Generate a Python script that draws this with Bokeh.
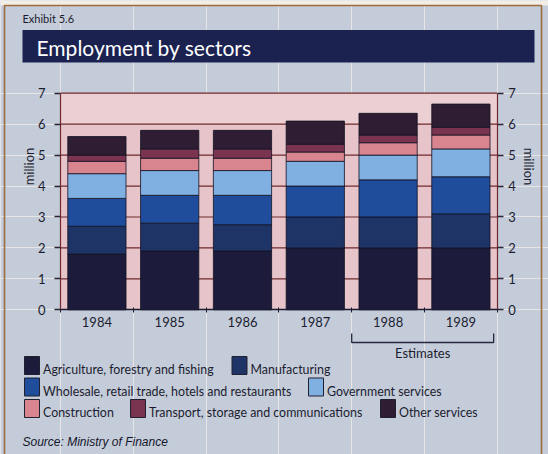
import math
from bokeh.plotting import figure
from bokeh.models import Range1d, LinearAxis, FixedTicker, ColumnDataSource
from bokeh.core.properties import value
from bokeh.embed import file_html
from bokeh.resources import INLINE

# ---------------- data ----------------
years = ["1984", "1985", "1986", "1987", "1988", "1989"]
sectors = [
    "Agriculture, forestry and fishing",
    "Manufacturing",
    "Wholesale, retail trade, hotels and restaurants",
    "Government services",
    "Construction",
    "Transport, storage and communications",
    "Other services",
]
agriculture = [1.8, 1.9, 1.9, 2.0, 2.0, 2.0]
manufacturing = [0.9, 0.9, 0.85, 1.0, 1.0, 1.1]
wholesale = [0.9, 0.9, 0.95, 1.0, 1.2, 1.2]
government = [0.8, 0.8, 0.8, 0.8, 0.8, 0.9]
construction = [0.4, 0.4, 0.4, 0.3, 0.4, 0.45]
transport = [0.2, 0.3, 0.3, 0.25, 0.25, 0.25]
other = [0.6, 0.6, 0.6, 0.75, 0.7, 0.75]
y_ticks = [0, 1, 2, 3, 4, 5, 6, 7]
estimate_years = ["1988", "1989"]
unit_label = "million"

colors = ["#1d1b3b", "#1f3466", "#1f4d9c", "#80b0e2", "#d9858f", "#7b3450", "#2e1d33"]

# ---------------- layout constants (pixels) ----------------
W, H = 548, 454
X0, CW = 60.0, 72.8      # px of first category edge, px per category
Y0, UY = 309.3, 30.94    # px of value 0, px per million

def xd(px):
    return (px - X0) / CW

def yd(py):
    return (Y0 - py) / UY

PANEL = "#c4ccd9"
PINK = "#e6c4c9"
PINK_TOP = "#ebcfd2"
GRID = "#6e2a2e"
NAVY = "#1c2250"
TXT = "#1c1c30"
FONT = "Lato"

p = figure(width=W, height=H, x_range=Range1d(xd(0), xd(W)), y_range=Range1d(yd(H), yd(0)),
           x_axis_location=None, y_axis_location=None, min_border=0,
           toolbar_location=None, output_backend="svg",
           background_fill_color=PANEL, border_fill_color=PANEL, outline_line_color=None)

n = len(years)
ymax = y_ticks[-1]

def txt(px, pmid, s, size, color=TXT, align="left", font=FONT, style="normal", angle=0.0):
    # pmid: vertical pixel position of the text's middle
    p.text(x=[xd(px)], y=[yd(pmid)], text=[s], text_font=value(font), text_font_size=value(size),
           text_color=color, text_align=align, text_baseline="middle", text_font_style=style,
           angle=angle)

# outer frame
p.quad(left=xd(0), right=xd(W), top=yd(0), bottom=yd(5), fill_color="#f3eee5", line_color=None)
p.line(x=[xd(4), xd(4), xd(541), xd(541)], y=[yd(H), yd(5), yd(5), yd(H)],
       line_color="#9c6b3e", line_width=1.6)

# title bar
p.quad(left=xd(22), right=xd(534), top=yd(29.5), bottom=yd(62), fill_color=NAVY, line_color=None)
txt(22, 18.3, "Exhibit 5.6", "11px")
txt(36, 47, "Employment by sectors", "21px", color="white")

# plot background
p.quad(left=0, right=n, bottom=0, top=ymax, fill_color=PINK, line_color=None)
p.quad(left=0, right=n, bottom=y_ticks[-2], top=ymax, fill_color=PINK_TOP, line_color=None)

# grid lines
p.segment(x0=[0] * (len(y_ticks) - 1), x1=[n] * (len(y_ticks) - 1), y0=y_ticks[1:], y1=y_ticks[1:],
          line_color=GRID, line_width=1.2)

# stacked bars
src = ColumnDataSource(dict(
    x=[i + 0.5 for i in range(n)],
    agriculture=agriculture, manufacturing=manufacturing, wholesale=wholesale,
    government=government, construction=construction, transport=transport, other=other))
keys = ["agriculture", "manufacturing", "wholesale", "government", "construction", "transport", "other"]
p.vbar_stack(keys, x="x", width=0.8, color=colors, line_color="#121222", line_width=0.8, source=src)

# axes
def yaxis(loc, standoff):
    ax = LinearAxis(fixed_location=loc, bounds=(0, ymax), ticker=FixedTicker(ticks=y_ticks),
                    major_label_text_font=FONT, major_label_text_font_size="13px",
                    major_label_text_color=TXT, major_label_standoff=standoff,
                    axis_line_color=GRID, axis_line_width=1.2,
                    major_tick_line_color="#2a2235", major_tick_line_width=1.3,
                    major_tick_out=6, major_tick_in=0,
                    minor_tick_line_color=None)
    return ax

p.add_layout(yaxis(0, 9), "left")
p.add_layout(yaxis(n, 5), "right")

# unit labels beside the value axes
txt(28, 166, unit_label, "13px", align="center", angle=math.pi / 2)
txt(528, 166, unit_label, "13px", align="center", angle=-math.pi / 2)

xax = LinearAxis(fixed_location=0, bounds=(0, n),
                 ticker=FixedTicker(ticks=[i + 0.5 for i in range(n)], minor_ticks=list(range(n + 1))),
                 major_label_overrides={i + 0.5: y for i, y in enumerate(years)},
                 major_label_text_font=FONT, major_label_text_font_size="13px",
                 major_label_text_color=TXT, major_label_standoff=4,
                 axis_line_color="#1a1a30", axis_line_width=1.6,
                 major_tick_line_color=None, major_tick_out=0, major_tick_in=0,
                 minor_tick_line_color="#1a1a30", minor_tick_out=3, minor_tick_in=2)
p.add_layout(xax, "below")

# estimates bracket
e0 = years.index(estimate_years[0])
e1 = years.index(estimate_years[-1]) + 1 - 0.05
p.line(x=[e0, e0, e1, e1], y=[yd(333), yd(342), yd(342), yd(333)], line_color="#26263e", line_width=1.3)
p.text(x=[(e0 + e1) / 2], y=[yd(352)], text=["Estimates"], text_font=value(FONT),
       text_font_size=value("13px"), text_color=TXT, text_align="center", text_baseline="middle")

# legend (drawn manually)
leg_pos = [(24, 374), (231.5, 374), (24, 395.5), (308, 395.5), (24, 417), (130, 417), (380, 417)]
p.quad(left=[xd(a) for a, b in leg_pos], right=[xd(a + 15) for a, b in leg_pos],
       top=[yd(b - 18) for a, b in leg_pos], bottom=[yd(b) for a, b in leg_pos],
       fill_color=colors, line_color="#202030", line_width=1)
for (a, b), name in zip(leg_pos, sectors):
    txt(a + 18.5, b - 5, name, "12.4px")

# source
txt(22, 441.5, "Source: Ministry of Finance", "12px", color="#15152a", font="Liberation Sans", style="italic")

open("out.html", "w").write(file_html(p, INLINE))
